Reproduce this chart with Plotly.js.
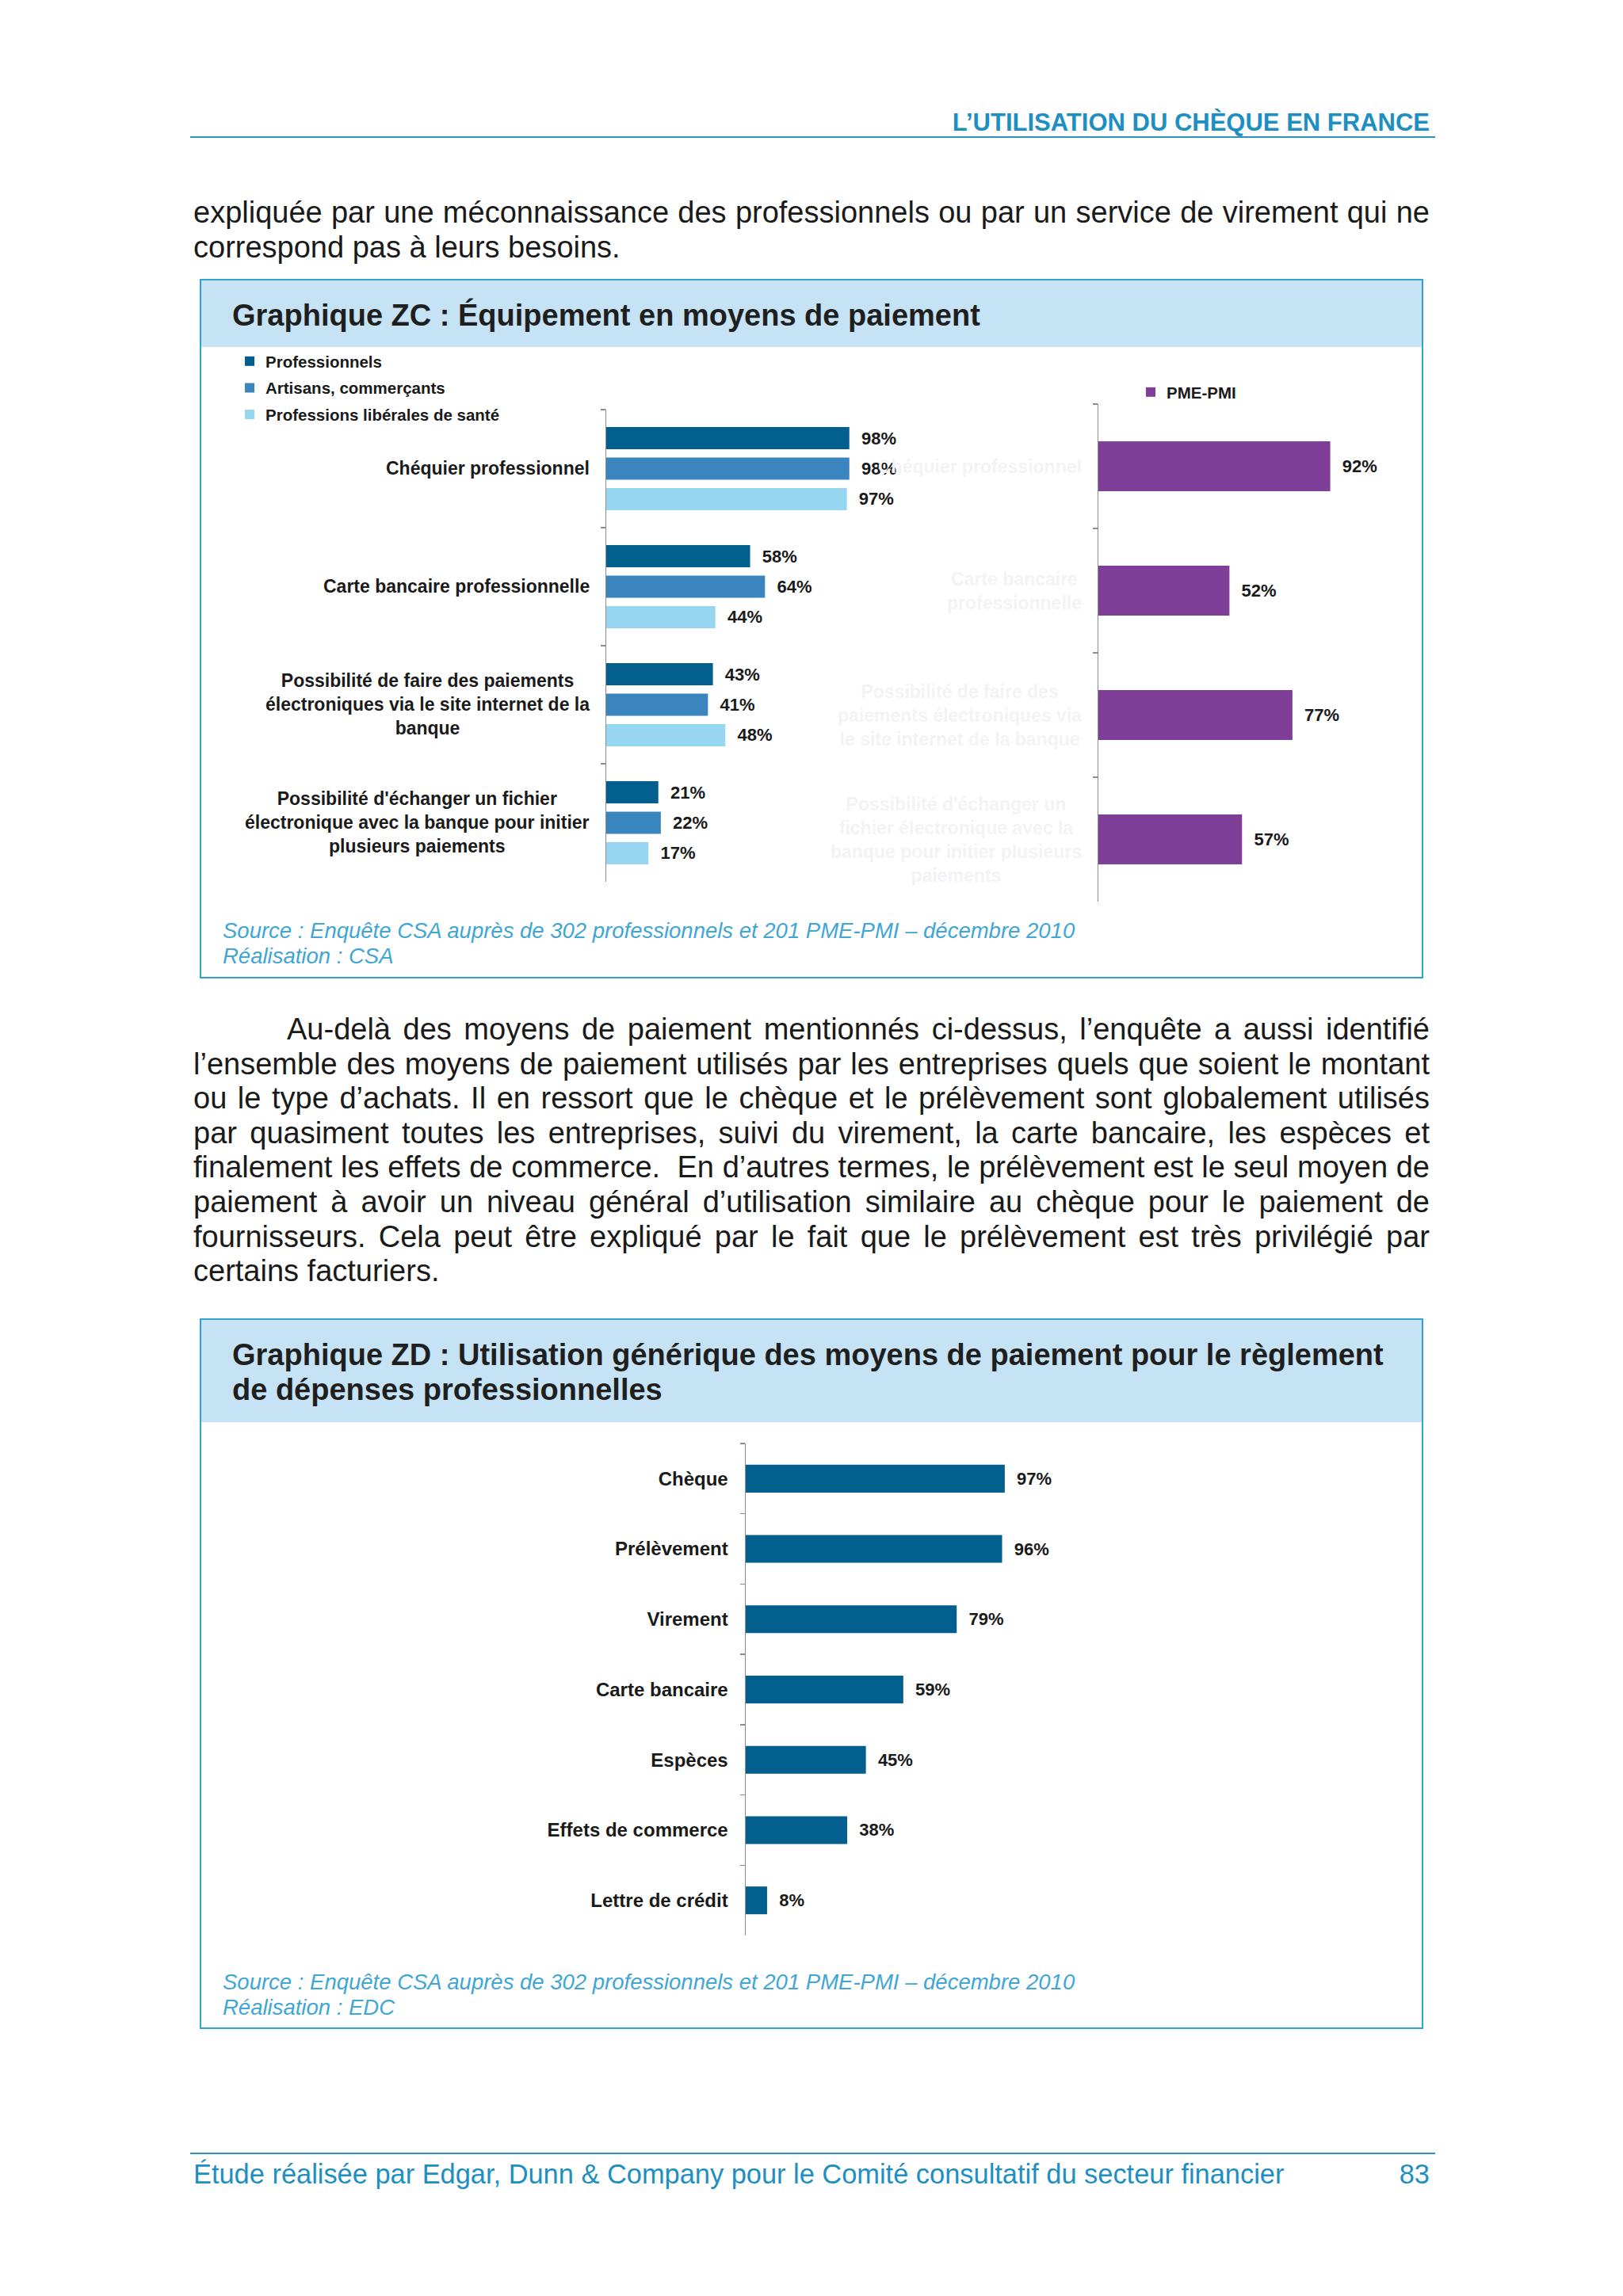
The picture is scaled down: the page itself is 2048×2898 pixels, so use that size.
<!DOCTYPE html>
<html>
<head>
<meta charset="utf-8">
<script src="https://cdn.plot.ly/plotly-3.0.1.min.js"></script>
<style>
html,body{margin:0;padding:0;background:#fff;}
#page{position:relative;width:2048px;height:2898px;overflow:hidden;font-family:"Liberation Sans",Arial,sans-serif;color:#1a1a1a;background:#fff;}
.pg-abs{position:absolute;white-space:nowrap;}
.pg-tl{position:absolute;left:244px;width:1560px;font-size:38px;line-height:43.6px;height:43.6px;text-align:justify;text-align-last:justify;}
.pg-last{text-align:left;text-align-last:left;}
.pg-rule{position:absolute;left:240px;width:1571px;height:2px;background:#2a94bf;}
.pg-box{position:absolute;box-sizing:border-box;border:2px solid #34a2cf;background:#fff;}
.pg-band{position:absolute;background:#c5e3f4;}
.pg-title{position:absolute;left:293px;font-size:38px;line-height:43.6px;font-weight:bold;color:#1f1f1f;white-space:nowrap;}
.pg-src{position:absolute;left:281px;font-size:27.5px;line-height:32px;font-style:italic;color:#3fa6d6;white-space:nowrap;}
#chart{position:absolute;left:0;top:0;width:2048px;height:2898px;}
</style>
</head>
<body>
<div id="page">
  <div class="pg-abs" style="right:244px;top:139px;font-size:31px;line-height:31px;font-weight:bold;color:#1e8fc2;">L’UTILISATION DU CHÈQUE EN FRANCE</div>
  <div class="pg-rule" style="top:172px;"></div>

  <div class="pg-tl" style="top:247px;">expliquée par une méconnaissance des professionnels ou par un service de virement qui ne</div>
  <div class="pg-tl pg-last" style="top:290.6px;">correspond pas à leurs besoins.</div>

  <div class="pg-box" style="left:252px;top:352px;width:1544px;height:883px;"></div>
  <div class="pg-band" style="left:254px;top:354px;width:1540px;height:84px;"></div>
  <div class="pg-title" style="top:377px;">Graphique ZC : Équipement en moyens de paiement</div>
  <div class="pg-src" style="top:1159px;">Source : Enquête CSA auprès de 302 professionnels et 201 PME-PMI – décembre 2010</div>
  <div class="pg-src" style="top:1191px;">Réalisation : CSA</div>

  <div class="pg-tl" style="top:1278px;text-indent:118px;">Au-delà des moyens de paiement mentionnés ci-dessus, l’enquête a aussi identifié</div>
  <div class="pg-tl" style="top:1321.6px;">l’ensemble des moyens de paiement utilisés par les entreprises quels que soient le montant</div>
  <div class="pg-tl" style="top:1365.2px;">ou le type d’achats. Il en ressort que le chèque et le prélèvement sont globalement utilisés</div>
  <div class="pg-tl" style="top:1408.8px;">par quasiment toutes les entreprises, suivi du virement, la carte bancaire, les espèces et</div>
  <div class="pg-tl" style="top:1452.4px;">finalement les effets de commerce.&nbsp; En d’autres termes, le prélèvement est le seul moyen de</div>
  <div class="pg-tl" style="top:1496px;">paiement à avoir un niveau général d’utilisation similaire au chèque pour le paiement de</div>
  <div class="pg-tl" style="top:1539.6px;">fournisseurs. Cela peut être expliqué par le fait que le prélèvement est très privilégié par</div>
  <div class="pg-tl pg-last" style="top:1583.2px;">certains facturiers.</div>

  <div class="pg-box" style="left:252px;top:1664px;width:1544px;height:897px;"></div>
  <div class="pg-band" style="left:254px;top:1666px;width:1540px;height:129px;"></div>
  <div class="pg-title" style="top:1689px;">Graphique ZD : Utilisation générique des moyens de paiement pour le règlement<br>de dépenses professionnelles</div>
  <div class="pg-src" style="top:2486px;">Source : Enquête CSA auprès de 302 professionnels et 201 PME-PMI – décembre 2010</div>
  <div class="pg-src" style="top:2518px;">Réalisation : EDC</div>

  <div class="pg-rule" style="top:2717px;"></div>
  <div class="pg-abs" style="left:244px;top:2727px;font-size:34.4px;line-height:34.4px;color:#1e8fc2;">Étude réalisée par Edgar, Dunn &amp; Company pour le Comité consultatif du secteur financier</div>
  <div class="pg-abs" style="right:244px;top:2727px;font-size:34.4px;line-height:34.4px;color:#1e8fc2;">83</div>

  <div id="chart"></div>
</div>
<script>
// ---------- DATA ----------
const zcCategories = [
  'Chéquier professionnel',
  'Carte bancaire professionnelle',
  'Possibilité de faire des paiements électroniques via le site internet de la banque',
  "Possibilité d'échanger un fichier électronique avec la banque pour initier plusieurs paiements"
];
const zcLabelsLeft = [
  'Chéquier professionnel',
  'Carte bancaire professionnelle',
  'Possibilité de faire des paiements<br>électroniques via le site internet de la<br>banque',
  "Possibilité d'échanger un fichier<br>électronique avec la banque pour initier<br>plusieurs paiements"
];
const zcLabelsRight = [
  'Chéquier professionnel',
  'Carte bancaire<br>professionnelle',
  'Possibilité de faire des<br>paiements électroniques via<br>le site internet de la banque',
  "Possibilité d'échanger un<br>fichier électronique avec la<br>banque pour initier plusieurs<br>paiements"
];
const seriesNames = ['Professionnels', 'Artisans, commerçants', 'Professions libérales de santé'];
const professionnels = [98, 58, 43, 21];
const artisansCommercants = [98, 64, 41, 22];
const professionsLiberales = [97, 44, 48, 17];
const pmeName = 'PME-PMI';
const pmePmi = [92, 52, 77, 57];
const zdCategories = ['Chèque', 'Prélèvement', 'Virement', 'Carte bancaire', 'Espèces', 'Effets de commerce', 'Lettre de crédit'];
const zdValues = [97, 96, 79, 59, 45, 38, 8];

// ---------- STYLE ----------
const W = 2048, H = 2898;
const fx = px => px / W;
const fy = py => 1 - py / H;
const FONT = 'Liberation Sans, Arial, sans-serif';
const seriesColors = ['#035f8e', '#3b85bf', '#97d6f0'];
const purple = '#7f3e98';
const zdColor = '#035f8e';
const axisGrey = '#8c8c8c';
const pct = v => '\u00a0\u00a0' + v + '%';
const valueFont = {family: FONT, size: 22, color: '#1a1a1a', weight: 'bold'};

const leftSeries = [professionnels, artisansCommercants, professionsLiberales];
const traces = leftSeries.map((vals, i) => ({
  type: 'bar', orientation: 'h', name: seriesNames[i], legendgroup: 'g' + i,
  x: vals, y: zcCategories, xaxis: 'x', yaxis: 'y',
  marker: {color: seriesColors[i]},
  text: vals.map(pct), textposition: 'outside', textfont: valueFont,
  cliponaxis: false, constraintext: 'none', hoverinfo: 'skip', legend: 'legend'
}));
traces.push({
  type: 'bar', orientation: 'h', name: pmeName,
  x: pmePmi, y: zcCategories, xaxis: 'x2', yaxis: 'y2', width: 0.4,
  marker: {color: purple},
  text: pmePmi.map(pct), textposition: 'outside', textfont: valueFont,
  cliponaxis: false, constraintext: 'none', hoverinfo: 'skip', legend: 'legend2'
});
traces.push({
  type: 'bar', orientation: 'h', name: 'ZD',
  x: zdValues, y: zdCategories, xaxis: 'x3', yaxis: 'y3', width: 0.395,
  marker: {color: zdColor},
  text: zdValues.map(pct), textposition: 'outside', textfont: valueFont,
  cliponaxis: false, constraintext: 'none', hoverinfo: 'skip', showlegend: false
});

const catAxis = (top, bottom, n, anchor) => ({
  domain: [fy(bottom), fy(top)], anchor: anchor, type: 'category',
  range: [n - 0.5, -0.5], showline: true, linecolor: axisGrey, linewidth: 1.5,
  ticks: 'outside', tickson: 'boundaries', ticklen: 6, tickcolor: axisGrey, tickwidth: 1.5,
  showticklabels: false, showgrid: false, zeroline: false, fixedrange: true
});
const valAxis = (left, right, anchor) => ({
  domain: [fx(left), fx(right)], range: [0, 100], visible: false, anchor: anchor, fixedrange: true
});

const annotations = [];
zcCategories.forEach((c, i) => {
  annotations.push({xref: 'paper', x: fx(746), xanchor: 'right', yref: 'y', y: c,
    text: zcLabelsLeft[i], showarrow: false, align: 'center',
    font: {family: FONT, size: 23, color: '#1a1a1a', weight: 'bold'}});
  annotations.push({xref: 'paper', x: fx(1367), xanchor: 'right', yref: 'y2', y: c,
    text: zcLabelsRight[i], showarrow: false, align: 'center',
    font: {family: FONT, size: 23, color: '#f3f3f7', weight: 'bold'}});
});

const zdY = catAxis(1822, 2443, zdCategories.length, 'x3');
zdY.showticklabels = true;
zdY.tickfont = {family: FONT, size: 24, color: '#1a1a1a', weight: 'bold'};
zdY.ticklabelstandoff = 16;

const layout = {
  width: W, height: H, margin: {l: 0, r: 0, t: 0, b: 0},
  paper_bgcolor: 'rgba(0,0,0,0)', plot_bgcolor: 'rgba(0,0,0,0)',
  font: {family: FONT, color: '#1a1a1a'},
  barmode: 'group', bargap: 0.225, bargroupgap: 0.27,
  showlegend: true,
  xaxis: valAxis(765, 1078, 'y'),
  yaxis: catAxis(517, 1113, zcCategories.length, 'x'),
  xaxis2: valAxis(1386, 1704, 'y2'),
  yaxis2: catAxis(510, 1138, zcCategories.length, 'x2'),
  xaxis3: valAxis(941, 1278, 'y3'),
  yaxis3: zdY,
  legend: {x: fx(295), y: fy(436), xanchor: 'left', yanchor: 'top', bgcolor: 'rgba(0,0,0,0)',
    font: {family: FONT, size: 20.5, color: '#1a1a1a', weight: 'bold'}, traceorder: 'grouped', tracegroupgap: 4},
  legend2: {x: fx(1432), y: fy(475), xanchor: 'left', yanchor: 'top', bgcolor: 'rgba(0,0,0,0)',
    font: {family: FONT, size: 20.5, color: '#1a1a1a', weight: 'bold'}},
  annotations: annotations
};

Plotly.newPlot('chart', traces, layout, {staticPlot: true, displayModeBar: false});
</script>
</body>
</html>
